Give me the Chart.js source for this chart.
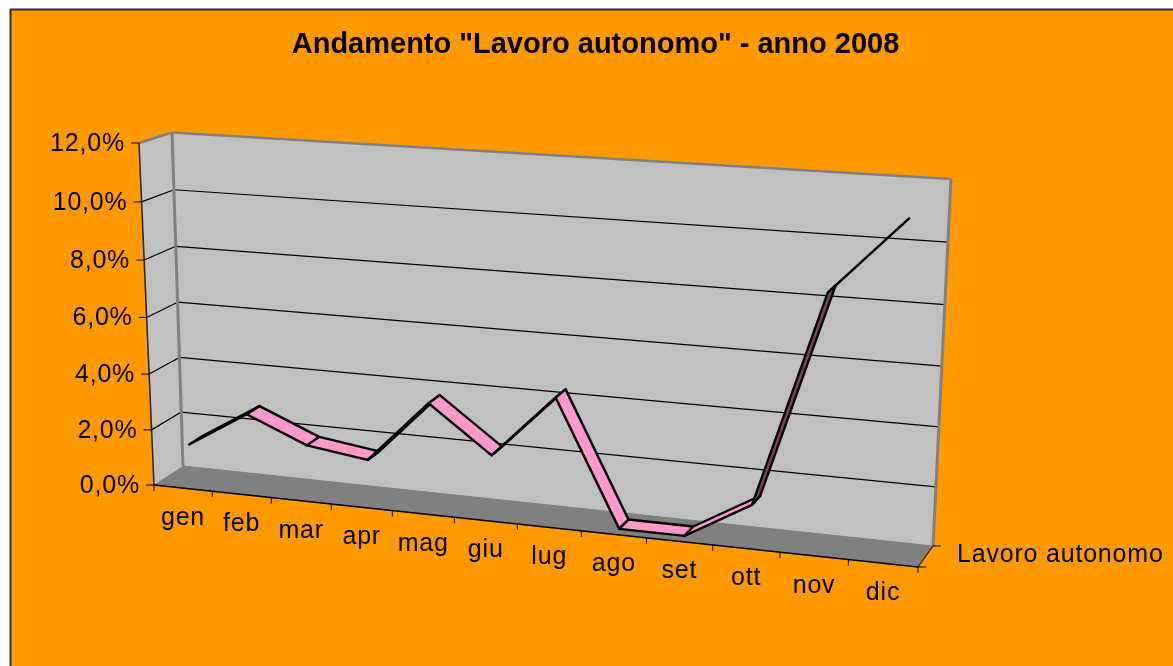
<!DOCTYPE html>
<html>
<head>
<meta charset="utf-8">
<title>Andamento Lavoro autonomo</title>
<script src="https://cdn.jsdelivr.net/npm/chart.js@4"></script>
<style>
    html, body { margin: 0; padding: 0; background: #fff; overflow: hidden; }
    canvas { display: block; }
</style>
</head>
<body>
<canvas id="myChart" width="1173" height="666"></canvas>
<script>
// chart data
var months = ['gen', 'feb', 'mar', 'apr', 'mag', 'giu', 'lug', 'ago', 'set', 'ott', 'nov', 'dic'];
var lavoroAutonomo = [1.4, 2.7, 1.8, 1.5, 3.7, 2.1, 4.3, 0.0, 0.0, 1.3, 8.5, 10.8];
var yTickValues = [0, 2, 4, 6, 8, 10, 12];
var yTickLabels = ['0,0%', '2,0%', '4,0%', '6,0%', '8,0%', '10,0%', '12,0%'];
var seriesName = 'Lavoro autonomo';
var chartTitle = 'Andamento "Lavoro autonomo" - anno 2008';

// corners of the 3D box: bottom-left, bottom-right, top-right, top-left
var backWall = [[183, 466], [933, 546], [951, 179], [172, 132.5]];
var frontPlane = [[154, 485], [918, 567], [936, 192], [139, 143]];
var ribbonBack = 0.27;
var ribbonFront = 0.73;
var FONT = '"Liberation Sans", Arial, sans-serif';

// unit square -> quad, so the flat scales can be shown in perspective
function homography(q) {
    var dx1 = q[1][0] - q[2][0], dx2 = q[3][0] - q[2][0], sx = q[0][0] - q[1][0] + q[2][0] - q[3][0];
    var dy1 = q[1][1] - q[2][1], dy2 = q[3][1] - q[2][1], sy = q[0][1] - q[1][1] + q[2][1] - q[3][1];
    var den = dx1 * dy2 - dx2 * dy1;
    var g = (sx * dy2 - dx2 * sy) / den;
    var h = (dx1 * sy - sx * dy1) / den;
    var a = q[1][0] - q[0][0] + g * q[1][0], b = q[3][0] - q[0][0] + h * q[3][0];
    var d = q[1][1] - q[0][1] + g * q[1][1], e = q[3][1] - q[0][1] + h * q[3][1];
    return function (u, v) {
        var w = g * u + h * v + 1;
        return [(a * u + b * v + q[0][0]) / w, (d * u + e * v + q[0][1]) / w];
    };
}
var backAt = homography(backWall);
var frontAt = homography(frontPlane);

// depth 0 is the back wall, depth 1 the front plane
function project(u, v, depth) {
    var p = backAt(u, v), f = frontAt(u, v);
    return [p[0] + (f[0] - p[0]) * depth, p[1] + (f[1] - p[1]) * depth];
}

function poly(ctx, pts) {
    ctx.beginPath();
    pts.forEach(function (p, i) {
        if (i === 0) ctx.moveTo(p[0], p[1]); else ctx.lineTo(p[0], p[1]);
    });
    ctx.closePath();
}

function seg(ctx, a, b, color, width) {
    ctx.strokeStyle = color;
    ctx.lineWidth = width;
    ctx.beginPath();
    ctx.moveTo(a[0], a[1]);
    ctx.lineTo(b[0], b[1]);
    ctx.stroke();
}

var perspectivePlugin = {
    id: 'perspective',
    beforeDraw: function (chart) {
        var ctx = chart.ctx;
        ctx.save();
        // frame and orange background
        ctx.fillStyle = '#FF9900';
        ctx.fillRect(10, 9, chart.width, chart.height);
        seg(ctx, [10.5, 9], [10.5, chart.height], '#333', 2);
        seg(ctx, [10, 9.5], [chart.width, 9.5], '#333', 2);
        ctx.restore();
    },
    beforeDatasetsDraw: function (chart) {
        var ctx = chart.ctx, area = chart.chartArea;
        var xs = chart.scales.x, ys = chart.scales.y;
        var uOf = function (px) { return (px - area.left) / area.width; };
        var vOf = function (val) { return (area.bottom - ys.getPixelForValue(val)) / area.height; };
        ctx.save();

        // walls and floor
        ctx.fillStyle = '#C0C0C0';
        poly(ctx, backWall);
        ctx.fill();
        poly(ctx, [backWall[0], backWall[3], frontPlane[3], frontPlane[0]]);
        ctx.fill();
        ctx.fillStyle = '#808080';
        poly(ctx, [backWall[0], backWall[1], frontPlane[1], frontPlane[0]]);
        ctx.fill();
        seg(ctx, backWall[0], backWall[1], '#808080', 1);

        // grid lines on back and side wall
        yTickValues.forEach(function (val) {
            if (val === 0 || val === 12) return;
            var v = vOf(val);
            seg(ctx, project(0, v, 0), project(1, v, 0), '#000', 1.2);
            seg(ctx, project(0, v, 0), project(0, v, 1), '#000', 1.2);
        });

        // wall borders
        seg(ctx, backWall[3], backWall[2], '#808080', 2.5);
        seg(ctx, backWall[2], backWall[1], '#808080', 3);
        seg(ctx, backWall[3], backWall[0], '#808080', 3);
        seg(ctx, backWall[3], frontPlane[3], '#808080', 2.5);

        // axes and tick marks
        seg(ctx, frontPlane[3], frontPlane[0], '#222', 1.5);
        seg(ctx, frontPlane[0], frontPlane[1], '#000', 1.5);
        seg(ctx, frontPlane[1], backWall[1], '#222', 1.2);
        yTickValues.forEach(function (val) {
            var p = project(0, vOf(val), 1);
            seg(ctx, [p[0] - 8, p[1]], p, '#000', 1);
        });
        for (var i = 0; i <= months.length; i++) {
            var t = project(i / months.length, 0, 1);
            seg(ctx, t, [t[0], t[1] + 6], '#000', 1);
        }
        seg(ctx, frontPlane[1], [frontPlane[1][0] + 8, frontPlane[1][1]], '#000', 1);
        seg(ctx, backWall[1], [backWall[1][0] + 8, backWall[1][1]], '#000', 1);

        // series ribbon, built from the points the scales placed
        var pts = chart.getDatasetMeta(0).data;
        var vals = chart.data.datasets[0].data;
        var back = [], front = [];
        pts.forEach(function (el) {
            var u = uOf(el.x), v = (area.bottom - el.y) / area.height;
            back.push(project(u, v, ribbonBack));
            front.push(project(u, v, ribbonFront));
        });
        ctx.strokeStyle = '#000';
        ctx.lineWidth = 2.4;
        ctx.lineJoin = 'round';
        for (var k = 0; k < pts.length - 1; k++) {
            // only the steep climb shows the shaded underside
            ctx.fillStyle = vals[k + 1] - vals[k] > 3 ? '#804060' : '#FF99CC';
            poly(ctx, [back[k], back[k + 1], front[k + 1], front[k]]);
            ctx.fill();
            ctx.stroke();
        }

        // tick labels
        ctx.fillStyle = '#000';
        ctx.font = '25px ' + FONT;
        ctx.letterSpacing = '0.8px';
        ctx.textBaseline = 'middle';
        ctx.textAlign = 'right';
        ys.ticks.forEach(function (tick) {
            var p = project(0, vOf(tick.value), 1);
            ctx.fillText(tick.label, p[0] - 14, p[1] + 1);
        });
        ctx.textAlign = 'center';
        xs.ticks.forEach(function (tick, idx) {
            var p = project(uOf(xs.getPixelForTick(idx)), 0, 1);
            ctx.fillText(tick.label, p[0], p[1] + 30);
        });
        ctx.textAlign = 'left';
        ctx.fillText(chart.data.datasets[0].label, 957, 555);
        ctx.restore();
    }
};

var chart = new Chart(document.getElementById('myChart').getContext('2d'), {
    type: 'line',
    data: {
        labels: months,
        datasets: [{
            label: seriesName,
            data: lavoroAutonomo,
            showLine: false,
            pointRadius: 0
        }]
    },
    options: {
        responsive: false,
        animation: false,
        layout: { padding: { left: 18 } },
        plugins: {
            legend: { display: false },
            tooltip: { enabled: false },
            title: {
                display: true,
                text: chartTitle,
                color: '#000',
                font: { family: FONT, size: 29, weight: 'bold' },
                padding: { top: 28, bottom: 10 }
            }
        },
        scales: {
            x: { type: 'category', display: false, offset: true },
            y: {
                display: false,
                min: 0,
                max: 12,
                afterBuildTicks: function (scale) {
                    scale.ticks = yTickValues.map(function (v) { return { value: v }; });
                },
                ticks: {
                    callback: function (value) { return yTickLabels[yTickValues.indexOf(value)]; }
                }
            }
        }
    },
    plugins: [perspectivePlugin]
});
</script>
</body>
</html>
